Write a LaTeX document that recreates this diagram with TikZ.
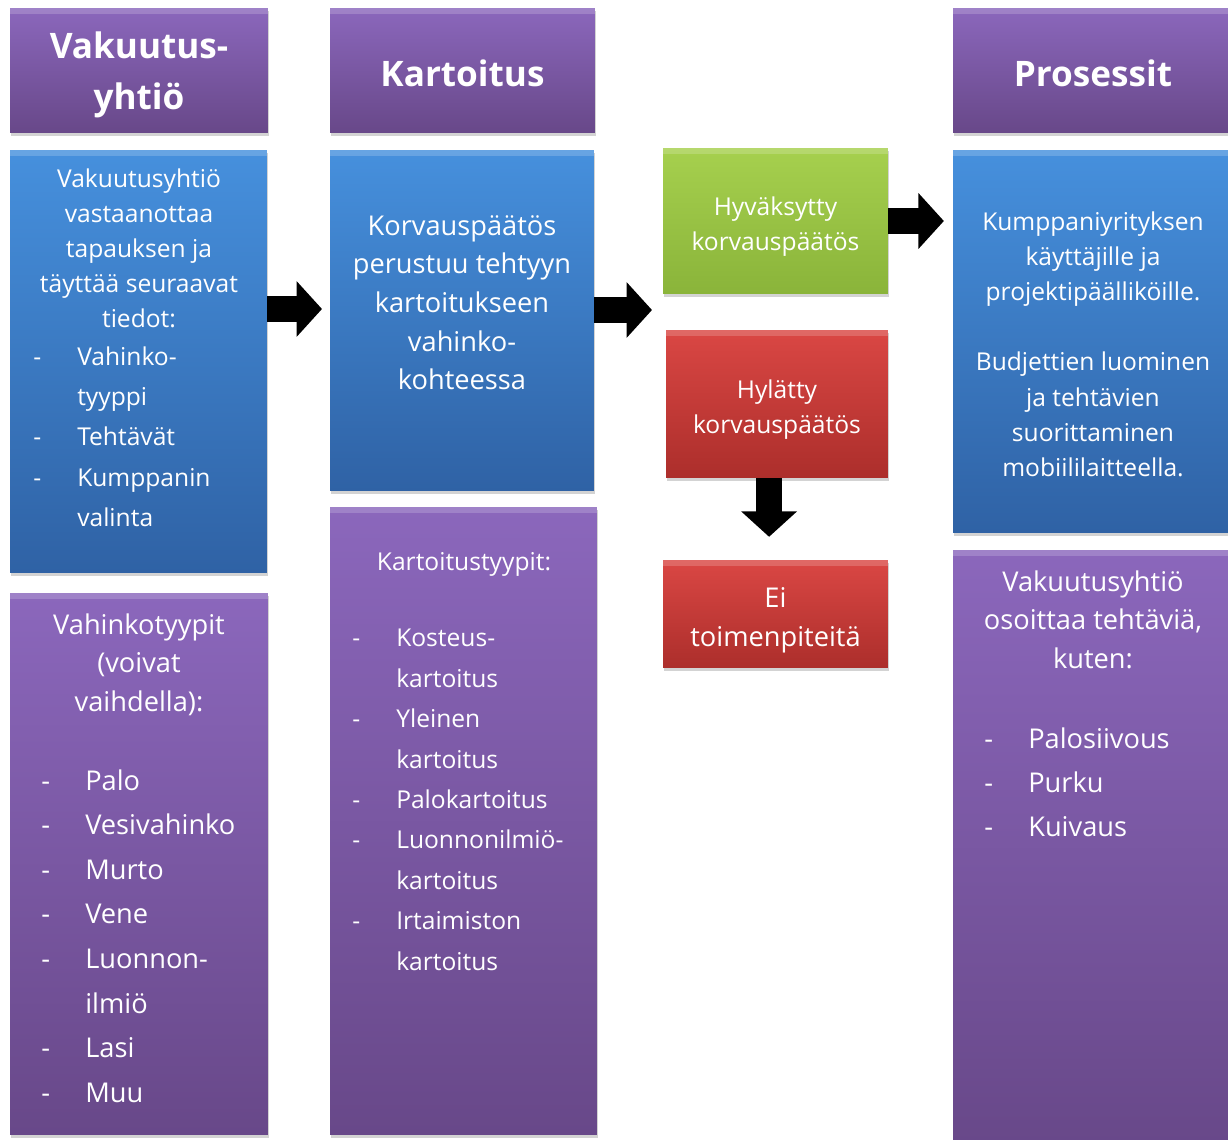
\documentclass[tikz,border=0pt]{standalone}
\usepackage{fontspec}
\setmainfont{Open Sans}
\usetikzlibrary{arrows.meta,positioning,shadows,calc}
\definecolor{lilaylä}{HTML}{8B67BC}
\definecolor{lilaala}{HTML}{684889}
\definecolor{siniylä}{HTML}{4690DD}
\definecolor{siniala}{HTML}{2F62A5}
\definecolor{vihreäylä}{HTML}{A6D04E}
\definecolor{vihreäala}{HTML}{8AB43A}
\definecolor{punaylä}{HTML}{DA4744}
\definecolor{punaala}{HTML}{AC2E2B}
\tikzstyle{kortti} = [rectangle,inner sep=0pt,text=white,drop shadow={opacity=0.35,shadow xshift=0.6pt,shadow yshift=-1.6pt},
  path picture={\fill[white,opacity=0.18] (path picture bounding box.north west) rectangle ([yshift=-3.5pt]path picture bounding box.north east);}]
\tikzstyle{lila} = [kortti,top color=lilaylä,bottom color=lilaala]
\tikzstyle{sini} = [kortti,top color=siniylä,bottom color=siniala]
\tikzstyle{vihreä} = [kortti,top color=vihreäylä,bottom color=vihreäala]
\tikzstyle{puna} = [kortti,top color=punaylä,bottom color=punaala]
\tikzstyle{otsikko} = [inner sep=0pt,text=white,align=center,font=\fontsize{20}{28.5}\selectfont\bfseries]
\tikzstyle{pieni} = [align=center,font=\fontsize{14}{20}\selectfont]
\tikzstyle{iso} = [align=center,font=\fontsize{15.5}{22}\selectfont]
\tikzstyle{teksti} = [inner sep=0pt,text=white,anchor=north]
\tikzstyle{keski} = [inner sep=0pt,text=white]
\tikzstyle{lista} = [inner sep=0pt,text=white,anchor=north west,align=left]
\tikzstyle{nuoli} = [-{Triangle[length=14.5pt,width=31pt]},line width=14.7pt,black]
\newcommand{\kohta}[1]{\makebox[25pt][l]{-}#1}
\newcommand{\jatko}[1]{\hspace*{25pt}#1}

\begin{document}
\begin{tikzpicture}[x=0.02cm,y=-0.02cm]
  \useasboundingbox (0,0) rectangle (1228,1140);
  % otsikot
  \node[lila,minimum width=5.16cm,minimum height=2.5cm] (vakuutus) at (139,70.5) {};
  \node[lila,minimum width=5.3cm,minimum height=2.5cm] (kartoitus) at (462.5,70.5) {};
  \node[lila,minimum width=5.6cm,minimum height=2.5cm] (prosessit) at (1093,70.5) {};
  \node[otsikko] (vakuutusotsikko) at ([yshift=-2.5pt]vakuutus.center) {Vakuutus-\\yhtiö};
  \node[otsikko] (kartoitusotsikko) at ([yshift=-1.8pt]kartoitus.center) {Kartoitus};
  \node[otsikko] (prosessitotsikko) at ([yshift=-1.8pt]prosessit.center) {Prosessit};
  % vakuutusyhtiö
  \node[sini,minimum width=5.14cm,minimum height=8.46cm] (vastaanotto) at (138.5,361.5) {};
  \node[teksti,pieni] (vastaanottoteksti) at (139,168) {Vakuutusyhtiö\\vastaanottaa\\tapauksen ja\\täyttää seuraavat\\tiedot:};
  \node[lista,font=\fontsize{14}{23}\selectfont] (vastaanottolista) at (33,346) {\kohta{Vahinko-}\\\jatko{tyyppi}\\\kohta{Tehtävät}\\\kohta{Kumppanin}\\\jatko{valinta}};
  \node[lila,minimum width=5.16cm,minimum height=10.84cm] (vahinkotyypit) at (139,864) {};
  \node[teksti,iso] (vahinkoteksti) at (139,613) {Vahinkotyypit\\(voivat\\vaihdella):};
  \node[lista,font=\fontsize{15.5}{25.4}\selectfont] (vahinkolista) at (41,769) {\kohta{Palo}\\\kohta{Vesivahinko}\\\kohta{Murto}\\\kohta{Vene}\\\kohta{Luonnon-}\\\jatko{ilmiö}\\\kohta{Lasi}\\\kohta{Muu}};
  % kartoitus
  \node[sini,minimum width=5.28cm,minimum height=6.82cm] (korvaus) at (462,320.5) {};
  \node[teksti,iso] (korvausteksti) at (462,215) {Korvauspäätös\\perustuu tehtyyn\\kartoitukseen\\vahinko-\\kohteessa};
  \node[lila,minimum width=5.34cm,minimum height=12.56cm] (kartoitustyypit) at (463.5,821) {};
  \node[teksti,pieni] (kartoitusteksti) at (464,552) {Kartoitustyypit:};
  \node[lista,font=\fontsize{14}{23}\selectfont] (kartoituslista) at (352,629) {\kohta{Kosteus-}\\\jatko{kartoitus}\\\kohta{Yleinen}\\\jatko{kartoitus}\\\kohta{Palokartoitus}\\\kohta{Luonnonilmiö-}\\\jatko{kartoitus}\\\kohta{Irtaimiston}\\\jatko{kartoitus}};
  % päätös
  \node[vihreä,minimum width=4.5cm,minimum height=2.92cm] (hyvaksytty) at (775.5,221) {};
  \node[keski,pieni] (hyvaksyttyteksti) at ([yshift=-3.4pt]hyvaksytty.center) {Hyväksytty\\korvauspäätös};
  \node[puna,minimum width=4.44cm,minimum height=2.96cm] (hylatty) at (777,404) {};
  \node[keski,pieni] (hylattyteksti) at ([yshift=-3.4pt]hylatty.center) {Hylätty\\korvauspäätös};
  \node[puna,minimum width=4.5cm,minimum height=2.16cm] (eitoimen) at (775.5,614) {};
  \node[keski,iso] (eitoimenteksti) at ([yshift=-3.6pt]eitoimen.center) {Ei\\toimenpiteitä};
  % prosessit
  \node[sini,minimum width=5.6cm,minimum height=7.66cm] (kumppani) at (1093,341.5) {};
  \node[keski,pieni] (kumppaniteksti) at ([yshift=-1.5pt]kumppani.center) {Kumppaniyrityksen\\käyttäjille ja\\projektipäälliköille.\\[20pt]Budjettien luominen\\ja tehtävien\\suorittaminen\\mobiililaitteella.};
  \node[lila,minimum width=5.6cm,minimum height=11.9cm] (tehtavat) at (1093,847.5) {};
  \node[teksti,iso] (tehtavateksti) at (1093,570) {Vakuutusyhtiö\\osoittaa tehtäviä,\\kuten:};
  \node[lista,font=\fontsize{15.5}{25.2}\selectfont] (tehtavalista) at (984,727) {\kohta{Palosiivous}\\\kohta{Purku}\\\kohta{Kuivaus}};
  % nuolet
  \coordinate (nuoli1) at (322,309);
  \coordinate (nuoli2) at (652,310);
  \draw[nuoli] (vastaanotto.east |- nuoli1) -- (nuoli1);
  \draw[nuoli] (korvaus.east |- nuoli2) -- (nuoli2);
  \draw[nuoli,shorten >=5pt] (hyvaksytty.east) -- (hyvaksytty.east -| kumppani.west);
  \draw[nuoli,shorten >=13pt] ([xshift=-4.5pt]hylatty.south) -- ([xshift=-4.5pt]hylatty.south |- eitoimen.north);
\end{tikzpicture}
\end{document}
